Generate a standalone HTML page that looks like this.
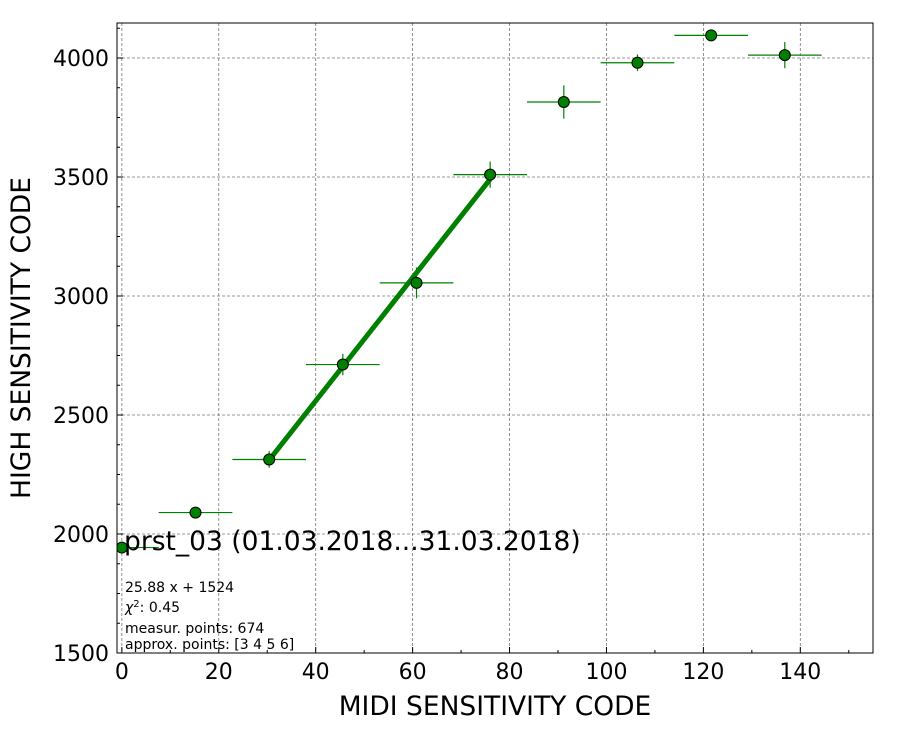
<!DOCTYPE html>
<html><head><meta charset="utf-8"><style>
body{margin:0;background:#fff;font-family:"Liberation Sans","DejaVu Sans",sans-serif}
svg text{font-family:"DejaVu Sans","Liberation Sans",sans-serif}
</style></head><body>
<svg id="chart" width="900" height="750" xmlns="http://www.w3.org/2000/svg">
<defs><clipPath id="plotclip"><rect x="117" y="23" width="756" height="630"/></clipPath></defs>
<rect width="900" height="750" fill="#fff"/>
<g id="grid"></g>
<g id="series" clip-path="url(#plotclip)"></g>
<rect x="117" y="23" width="756" height="630" fill="none" stroke="#000" stroke-width="1"/>
<g id="ticks"></g>
<text x="495" y="715" font-size="26.5" text-anchor="middle">MIDI SENSITIVITY CODE</text>
<text transform="translate(30,338) rotate(-90)" font-size="26.5" text-anchor="middle">HIGH SENSITIVITY CODE</text>
<text x="124" y="550" font-size="26.5">prst_03 (01.03.2018...31.03.2018)</text>
<g font-size="14">
<text x="125" y="592">25.88 x + 1524</text>
<text x="125" y="612"><tspan font-style="italic">χ</tspan><tspan dy="-5" font-size="10">2</tspan><tspan dy="5">: 0.45</tspan></text>
<text x="125" y="633">measur. points: 674</text>
<text x="125" y="649">approx. points: [3 4 5 6]</text>
</g>
</svg>
<script>
const xValues=[0,15.2,30.4,45.6,60.8,76,91.2,106.4,121.6,136.8];
const yValues=[1943,2090,2313,2712,3055,3510,3815,3980,4095,4012];
const yErrors=[15,15,35,45,65,55,70,35,15,55];
const xError=7.6;
const fitSlope=25.88, fitIntercept=1524;
const fitRange=[30.4,76];
const xTicks=[0,20,40,60,80,100,120,140];
const yTicks=[1500,2000,2500,3000,3500,4000];
const X0=117,X1=873,Y0=653,Y1=23,xMin=-1,xMax=155,yMin=1500,yMax=4147;
const sx=v=>X0+(v-xMin)/(xMax-xMin)*(X1-X0);
const sy=v=>Y0-(v-yMin)/(yMax-yMin)*(Y0-Y1);
const NS="http://www.w3.org/2000/svg";
function mk(t,a,p){const e=document.createElementNS(NS,t);for(const k in a)e.setAttribute(k,a[k]);p.appendChild(e);return e;}
const grid=document.getElementById('grid'),ticks=document.getElementById('ticks'),ser=document.getElementById('series');
xTicks.forEach(v=>{const x=sx(v);
 const g=mk('line',{x1:x,x2:x,y1:Y1,y2:Y0,stroke:'#777','stroke-dasharray':'3,2','stroke-width':0.8},grid);
 
 const t=mk('line',{x1:x,x2:x,y1:Y0,y2:Y0-6,stroke:'#000'},ticks);
 
 const l=mk('text',{x:x,y:Y0+26,'font-size':22,'text-anchor':'middle'},ticks);l.textContent=v;
 });
for(let v=10;v<155;v+=20){const x=sx(v);const t=mk('line',{x1:x,x2:x,y1:Y0,y2:Y0-3,stroke:'#000'},ticks);
 }
yTicks.forEach(v=>{const y=sy(v);
 const g=mk('line',{x1:X0,x2:X1,y1:y,y2:y,stroke:'#777','stroke-dasharray':'3,2','stroke-width':0.8},grid);
 
 const t=mk('line',{x1:X0,x2:X0+6,y1:y,y2:y,stroke:'#000'},ticks);
 
 const l=mk('text',{x:X0-8,y:y+8,'font-size':22,'text-anchor':'end'},ticks);l.textContent=v;
 });
for(let v=1625;v<4147;v+=125){if((v-1500)%500===0)continue;const y=sy(v);const t=mk('line',{x1:X0,x2:X0+3,y1:y,y2:y,stroke:'#000'},ticks);
 }
const fit=mk('line',{x1:sx(fitRange[0]),y1:sy(fitSlope*fitRange[0]+fitIntercept),x2:sx(fitRange[1]),y2:sy(fitSlope*fitRange[1]+fitIntercept),stroke:'#008000','stroke-width':5},ser);

xValues.forEach((xv,i)=>{const x=sx(xv),y=sy(yValues[i]);
 const eh=mk('line',{x1:sx(xv-xError),x2:sx(xv+xError),y1:y,y2:y,stroke:'#008000','stroke-width':1.2},ser);
 
 const ev=mk('line',{x1:x,x2:x,y1:sy(yValues[i]-yErrors[i]),y2:sy(yValues[i]+yErrors[i]),stroke:'#008000','stroke-width':1.2},ser);
 
 const c=mk('circle',{cx:x,cy:y,r:5.5,fill:'#008000',stroke:'#000','stroke-width':1},ser);
 });
</script>
</body></html>
